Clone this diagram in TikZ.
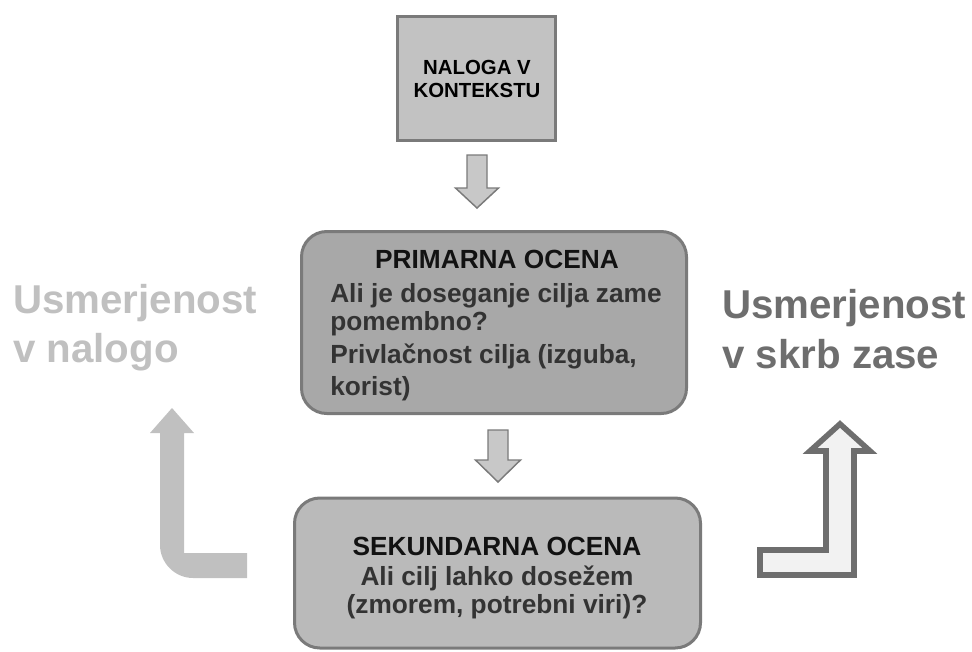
\documentclass[tikz,border=0pt]{standalone}
\usepackage{fontspec}
\setmainfont{Liberation Sans}
\definecolor{boxline}{HTML}{7A7A7A}
\definecolor{topfill}{HTML}{C2C2C2}
\definecolor{primfill}{HTML}{A8A8A8}
\definecolor{secfill}{HTML}{BABABA}
\definecolor{arrfill}{HTML}{C8C8C8}
\definecolor{lightlab}{HTML}{C0C0C0}
\definecolor{darklab}{HTML}{6E6E6E}
\definecolor{bodytext}{HTML}{333333}
\definecolor{hollow}{HTML}{F2F2F2}
\begin{document}
\begin{tikzpicture}[x=0.75pt,y=-0.75pt,
  box/.style={draw=boxline,line width=2.25pt,inner sep=0pt},
  txt/.style={inner sep=0pt,anchor=base,font=\bfseries\fontsize{19.7}{21}\selectfont},
  bigl/.style={inner sep=0pt,anchor=base west,align=left,font=\bfseries\fontsize{30.2}{37}\selectfont},
  downarrow/.style={fill=arrfill,draw=boxline,line width=1.1pt,line join=miter}]
\useasboundingbox (0,0) rectangle (972,651);

% boxes
\node[box,fill=topfill,minimum width=118.5pt,minimum height=93pt] (task) at (476.5,78.5) {};
\node[box,fill=primfill,rounded corners=19pt,minimum width=288.75pt,minimum height=136.5pt] (prim) at (494,322.5) {};
\node[box,fill=secfill,rounded corners=19pt,minimum width=304.5pt,minimum height=112.5pt] (sec) at (497.5,573) {};

% top box text
\node[inner sep=0pt,anchor=base,font=\bfseries\fontsize{15.3}{18}\selectfont] (t1) at (477,74) {NALOGA V};
\node[inner sep=0pt,anchor=base,font=\bfseries\fontsize{15.3}{18}\selectfont] (t2) at (477,97.5) {KONTEKSTU};

% primary text
\node[txt,text=black!93] (p0) at (497,268) {PRIMARNA OCENA};
\node[txt,anchor=base west,text=bodytext] (p1) at (330,302) {Ali je doseganje cilja zame};
\node[txt,anchor=base west,text=bodytext] (p2) at (330,330) {pomembno?};
\node[txt,anchor=base west,text=bodytext] (p3) at (330,363) {Privlačnost cilja (izguba,};
\node[txt,anchor=base west,text=bodytext] (p4) at (330,395) {korist)};

% secondary text
\node[txt,text=black!93] (s0) at (497,555) {SEKUNDARNA OCENA};
\node[txt,text=bodytext] (s1) at (497,585) {Ali cilj lahko dosežem};
\node[txt,text=bodytext] (s2) at (497,613) {(zmorem, potrebni viri)?};

% big labels
\node[bigl,text=lightlab] (l1) at (13,313) {Usmerjenost};
\node[bigl,text=lightlab] (l2) at (13,362) {v nalogo};
\node[bigl,text=darklab] (r1) at (722,318) {Usmerjenost};
\node[bigl,text=darklab] (r2) at (722,368) {v skrb zase};

% down arrows
\draw[downarrow] (467,155) -- (487,155) -- (487,188) -- (498.5,188) -- (477,208) -- (455.5,188) -- (467,188) -- cycle;
\draw[downarrow] (488,430) -- (508,430) -- (508,460) -- (520.5,460) -- (498,482) -- (475.5,460) -- (488,460) -- cycle;

% left bent arrow (solid light)
\fill[lightlab] (247,553) -- (184,553) -- (184,433) -- (194,433) -- (172,408) -- (150,433) -- (160,433) -- (160,545) .. controls (160,563) and (175,578) .. (193,578) -- (247,578) -- cycle;

% right bent arrow (hollow)
\draw[draw=darklab,fill=hollow,line width=4.2pt,line join=miter] (760,550) -- (826,550) -- (826,451) -- (810,451) -- (840,424) -- (870,451) -- (854,451) -- (854,575) -- (760,575) -- cycle;
\end{tikzpicture}
\end{document}
